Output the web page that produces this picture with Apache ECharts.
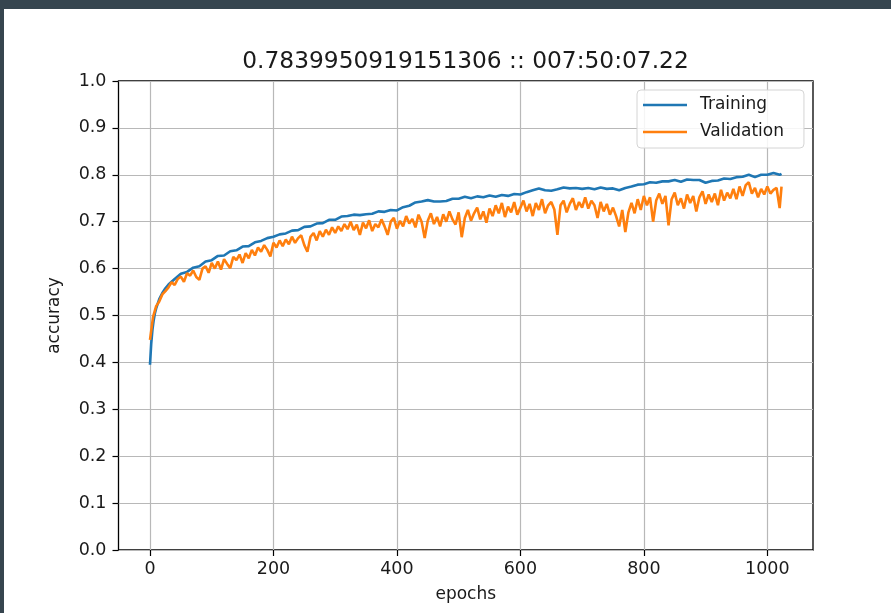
<!DOCTYPE html>
<html>
<head>
<meta charset="utf-8">
<script src="https://cdn.jsdelivr.net/npm/echarts@6/dist/echarts.min.js"></script>
<style>
  html, body { margin: 0; padding: 0; width: 891px; height: 613px; overflow: hidden; background: #36454f; }
  #chart { position: absolute; left: 4px; top: 9px; width: 887px; height: 604px; background: #ffffff; }
</style>
</head>
<body>
<div id="chart"></div>
<script>
// Run summary shown as the chart title
const TITLE = '0.7839950919151306 :: 007:50:07.22';
const SERIES_NAMES = ['Training', 'Validation'];
const X_TICKS = [0, 200, 400, 600, 800, 1000];

// Training accuracy per epoch
const TRAIN_EPOCHS = [
  0, 2, 4, 6, 8, 10, 15, 20, 25, 30,
  40, 50, 60, 70, 80, 90, 100, 110, 120, 130,
  140, 150, 160, 170, 180, 190, 200, 210, 220, 230,
  240, 250, 260, 270, 280, 290, 300, 310, 320, 330,
  340, 350, 360, 370, 380, 390, 400, 410, 420, 430,
  440, 450, 460, 470, 480, 490, 500, 510, 520, 530,
  540, 550, 560, 570, 580, 590, 600, 610, 620, 630,
  640, 650, 660, 670, 680, 690, 700, 710, 720, 730,
  740, 750, 760, 770, 780, 790, 800, 810, 820, 830,
  840, 850, 860, 870, 880, 890, 900, 910, 920, 930,
  940, 950, 960, 970, 980, 990, 1000, 1010, 1020, 1023
];
const TRAIN_ACC = [
  0.395, 0.440, 0.470, 0.490, 0.505, 0.515, 0.535, 0.548, 0.558, 0.566,
  0.578, 0.589, 0.593, 0.602, 0.605, 0.615, 0.618, 0.627, 0.628, 0.637,
  0.639, 0.647, 0.648, 0.656, 0.659, 0.665, 0.668, 0.673, 0.675, 0.681,
  0.682, 0.689, 0.690, 0.696, 0.697, 0.704, 0.704, 0.711, 0.712, 0.715,
  0.714, 0.716, 0.717, 0.722, 0.721, 0.725, 0.724, 0.731, 0.734, 0.741,
  0.743, 0.746, 0.743, 0.743, 0.744, 0.749, 0.749, 0.753, 0.750, 0.754,
  0.752, 0.756, 0.753, 0.757, 0.755, 0.759, 0.758, 0.763, 0.767, 0.771,
  0.767, 0.766, 0.769, 0.773, 0.771, 0.772, 0.770, 0.772, 0.769, 0.773,
  0.770, 0.771, 0.767, 0.772, 0.775, 0.779, 0.780, 0.784, 0.783, 0.786,
  0.786, 0.789, 0.785, 0.790, 0.789, 0.789, 0.783, 0.787, 0.788, 0.792,
  0.791, 0.795, 0.796, 0.800, 0.795, 0.800, 0.800, 0.804, 0.800, 0.802
];

// Validation accuracy per epoch
const VAL_EPOCHS = [
  0, 5, 10, 15, 20, 25, 30, 35, 40, 45,
  50, 55, 60, 65, 70, 75, 80, 85, 90, 95,
  100, 105, 110, 115, 120, 125, 130, 135, 140, 145,
  150, 155, 160, 165, 170, 175, 180, 185, 190, 195,
  200, 205, 210, 215, 220, 225, 230, 235, 240, 245,
  250, 255, 260, 265, 270, 275, 280, 285, 290, 295,
  300, 305, 310, 315, 320, 325, 330, 335, 340, 345,
  350, 355, 360, 365, 370, 375, 380, 385, 390, 395,
  400, 405, 410, 415, 420, 425, 430, 435, 440, 445,
  450, 455, 460, 465, 470, 475, 480, 485, 490, 495,
  500, 505, 510, 515, 520, 525, 530, 535, 540, 545,
  550, 555, 560, 565, 570, 575, 580, 585, 590, 595,
  600, 605, 610, 615, 620, 625, 630, 635, 640, 645,
  650, 655, 660, 665, 670, 675, 680, 685, 690, 695,
  700, 705, 710, 715, 720, 725, 730, 735, 740, 745,
  750, 755, 760, 765, 770, 775, 780, 785, 790, 795,
  800, 805, 810, 815, 820, 825, 830, 835, 840, 845,
  850, 855, 860, 865, 870, 875, 880, 885, 890, 895,
  900, 905, 910, 915, 920, 925, 930, 935, 940, 945,
  950, 955, 960, 965, 970, 975, 980, 985, 990, 995,
  1000, 1005, 1010, 1015, 1020, 1023
];
const VAL_ACC = [
  0.448, 0.497, 0.520, 0.530, 0.545, 0.552, 0.560, 0.571, 0.565, 0.578,
  0.583, 0.572, 0.590, 0.585, 0.596, 0.582, 0.576, 0.600, 0.605, 0.591,
  0.612, 0.600, 0.615, 0.598, 0.620, 0.610, 0.601, 0.625, 0.618, 0.630,
  0.612, 0.633, 0.622, 0.640, 0.628, 0.645, 0.636, 0.650, 0.640, 0.626,
  0.655, 0.645, 0.660, 0.648, 0.662, 0.652, 0.668, 0.655, 0.665, 0.671,
  0.650, 0.636, 0.668, 0.676, 0.660, 0.680, 0.668, 0.683, 0.672, 0.688,
  0.676, 0.690, 0.680, 0.695, 0.684, 0.700, 0.682, 0.694, 0.672, 0.698,
  0.686, 0.703, 0.680, 0.695, 0.688, 0.705, 0.690, 0.672, 0.700, 0.708,
  0.685, 0.702, 0.690, 0.712, 0.696, 0.706, 0.688, 0.715, 0.700, 0.665,
  0.702, 0.718, 0.695, 0.710, 0.690, 0.716, 0.700, 0.722, 0.705, 0.694,
  0.720, 0.667, 0.708, 0.725, 0.702, 0.718, 0.730, 0.705, 0.722, 0.698,
  0.728, 0.712, 0.735, 0.718, 0.740, 0.710, 0.732, 0.720, 0.742, 0.715,
  0.730, 0.745, 0.722, 0.738, 0.712, 0.740, 0.725, 0.748, 0.718, 0.735,
  0.742, 0.726, 0.672, 0.735, 0.745, 0.720, 0.738, 0.750, 0.725, 0.742,
  0.730, 0.752, 0.728, 0.745, 0.735, 0.708, 0.742, 0.722, 0.738, 0.715,
  0.730, 0.712, 0.690, 0.725, 0.678, 0.720, 0.740, 0.718, 0.748, 0.725,
  0.755, 0.735, 0.752, 0.700, 0.745, 0.760, 0.738, 0.755, 0.692, 0.748,
  0.762, 0.735, 0.750, 0.728, 0.758, 0.740, 0.755, 0.722, 0.752, 0.765,
  0.738, 0.758, 0.742, 0.760, 0.735, 0.768, 0.745, 0.762, 0.750, 0.770,
  0.748, 0.775, 0.755, 0.778, 0.784, 0.760, 0.772, 0.752, 0.770, 0.758,
  0.775, 0.760, 0.768, 0.772, 0.729, 0.775
];

const FONT = 'DejaVu Sans';
const TEXT_COLOR = '#1a1a1a';
const zip = (xs, ys) => xs.map((x, i) => [x, ys[i]]);

const chart = echarts.init(document.getElementById('chart'), null, { renderer: 'canvas' });

chart.setOption({
  animation: false,
  textStyle: { fontFamily: FONT },
  grid: {
    left: 114.5, right: 78, top: 72, bottom: 63,
    show: true, borderColor: '#000', borderWidth: 1.3, backgroundColor: 'transparent'
  },
  graphic: [{
    type: 'text', x: 461.5, y: 53, z: 10,
    style: {
      text: TITLE, fontFamily: FONT, fontSize: 23.3, fill: TEXT_COLOR,
      textAlign: 'center', textVerticalAlign: 'middle'
    }
  }],
  legend: {
    orient: 'vertical', left: 633, top: 81,
    padding: [5, 20, 6, 6], itemGap: 7, itemWidth: 44, itemHeight: 2.6,
    icon: 'rect',
    backgroundColor: 'rgba(255,255,255,0.85)', borderColor: '#d4d4d4', borderWidth: 1, borderRadius: 4,
    textStyle: { fontFamily: FONT, fontSize: 17, color: TEXT_COLOR, padding: [0, 0, 0, 8], lineHeight: 20 },
    data: SERIES_NAMES
  },
  xAxis: {
    type: 'value', min: -51, max: 1074,
    name: 'epochs', nameLocation: 'middle', nameGap: 36,
    nameTextStyle: { fontFamily: FONT, fontSize: 17, color: TEXT_COLOR },
    axisLine: { show: false, onZero: false },
    axisTick: { show: true, inside: false, length: 6, customValues: X_TICKS, lineStyle: { color: '#000', width: 1.2 } },
    axisLabel: {
      customValues: X_TICKS, margin: 10, fontFamily: FONT, fontSize: 17.5, color: TEXT_COLOR,
      formatter: v => String(v)
    },
    splitLine: { show: true, lineStyle: { color: '#b8b8b8', width: 1.2 } }
  },
  yAxis: {
    type: 'value', min: 0, max: 1, interval: 0.1,
    name: 'accuracy', nameLocation: 'middle', nameGap: 55,
    nameTextStyle: { fontFamily: FONT, fontSize: 17, color: TEXT_COLOR },
    axisLine: { show: false, onZero: false },
    axisTick: { show: true, inside: false, length: 6, lineStyle: { color: '#000', width: 1.2 } },
    axisLabel: { margin: 12, fontFamily: FONT, fontSize: 17.5, color: TEXT_COLOR, formatter: v => v.toFixed(1) },
    splitLine: { show: true, lineStyle: { color: '#b8b8b8', width: 1.2 } }
  },
  series: [
    {
      name: SERIES_NAMES[0], type: 'line', data: zip(TRAIN_EPOCHS, TRAIN_ACC),
      symbol: 'none', showSymbol: false, clip: true,
      color: '#1f77b4', lineStyle: { color: '#1f77b4', width: 2.6 }
    },
    {
      name: SERIES_NAMES[1], type: 'line', data: zip(VAL_EPOCHS, VAL_ACC),
      symbol: 'none', showSymbol: false, clip: true,
      color: '#ff7f0e', lineStyle: { color: '#ff7f0e', width: 2.6 }
    }
  ]
});
</script>
</body>
</html>
